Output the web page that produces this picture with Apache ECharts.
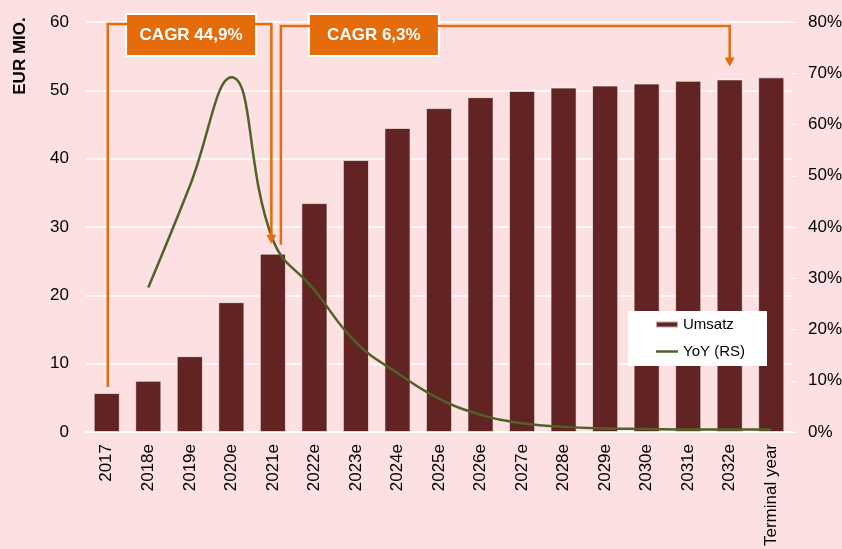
<!DOCTYPE html>
<html>
<head>
<meta charset="utf-8">
<title>Umsatz</title>
<script src="https://cdn.jsdelivr.net/npm/echarts@6.0.0/dist/echarts.min.js"></script>
<style>
  html, body { margin: 0; padding: 0; background: #FDE0E1; }
  #main { width: 842px; height: 549px; }
</style>
</head>
<body>
<div id="main"></div>
<script>
const years = ['2017', '2018e', '2019e', '2020e', '2021e', '2022e', '2023e', '2024e', '2025e',
  '2026e', '2027e', '2028e', '2029e', '2030e', '2031e', '2032e', 'Terminal year'];
const umsatz = [5.7, 7.5, 11.1, 19.0, 26.1, 33.5, 39.8, 44.5, 47.4, 49.0, 49.9, 50.4, 50.7, 51.0, 51.4, 51.6, 51.9];
const yoy = [null, 28.2, 48.0, 69.2, 37.5, 27.7, 17.5, 11.5, 6.5, 3.4, 1.7, 1.0, 0.7, 0.6, 0.5, 0.5, 0.5];
const leftTicks = [0, 10, 20, 30, 40, 50, 60];
const rightTicks = [0, 10, 20, 30, 40, 50, 60, 70, 80];
const cagrLabels = ['CAGR 44,9%', 'CAGR 6,3%'];

const orange = '#E46C0A';
const font = "'Liberation Sans', Arial, sans-serif";
const chart = echarts.init(document.getElementById('main'));

chart.setOption({
  backgroundColor: '#FDE0E1',
  textStyle: { fontFamily: font },
  animation: false,
  grid: { left: 86, right: 50, top: 22, bottom: 117, containLabel: false, outerBoundsMode: 'none' },
  legend: {
    orient: 'vertical', left: 628, top: 311,
    backgroundColor: '#fff',
    padding: [6, 22, 7, 27], itemGap: 12,
    itemWidth: 22, itemHeight: 6, symbolKeepAspect: true,
    textStyle: { fontSize: 15, color: '#000', fontFamily: font },
    data: [
      { name: 'Umsatz', icon: 'rect' },
      { name: 'YoY (RS)', icon: 'path://M0,0 L22,0 L22,2.5 L0,2.5 Z' }
    ]
  },
  xAxis: {
    type: 'category', data: years,
    axisLine: { lineStyle: { color: '#fff', width: 2 } },
    axisTick: { show: false },
    axisLabel: { rotate: 90, fontSize: 17, color: '#000', margin: 12, interval: 0 }
  },
  yAxis: [{
    type: 'value', min: leftTicks[0], max: leftTicks[leftTicks.length - 1], interval: 10,
    axisLine: { show: false }, axisTick: { show: false },
    splitLine: { lineStyle: { color: '#fff', width: 1.5 } },
    axisLabel: { fontSize: 17, color: '#000', margin: 17 }
  }, {
    type: 'value', min: rightTicks[0], max: rightTicks[rightTicks.length - 1], interval: 10,
    position: 'right',
    axisLine: { show: false },
    axisTick: { show: true, length: 4, lineStyle: { color: '#fff' } },
    splitLine: { show: false },
    axisLabel: { fontSize: 17, color: '#000', margin: 16, formatter: '{value}%' }
  }],
  series: [{
    name: 'Umsatz', type: 'bar', data: umsatz, barWidth: '63%',
    itemStyle: { color: '#622423', borderColor: 'rgba(255,255,255,0.6)', borderWidth: 1 }
  }, {
    name: 'YoY (RS)', type: 'line', yAxisIndex: 1, data: yoy, smooth: 0.45,
    symbol: 'none', connectNulls: false,
    lineStyle: { color: '#4F6228', width: 2.5 }, itemStyle: { color: '#4F6228' }
  }]
});

// annotation arrows + CAGR boxes, positioned from the axes
function px(i, v) { return chart.convertToPixel({ xAxisIndex: 0, yAxisIndex: 0 }, [years[i], v]); }
const p0 = px(0, umsatz[0]);
const p4 = px(4, umsatz[4]);
const p15 = px(15, umsatz[15]);
const yTop1 = px(0, 59.7)[1];
const yTop2 = px(0, 59.4)[1];
const a1x = p4[0] - 1.5, a2x = p4[0] + 8;

function arrowHead(x, y) {
  return { type: 'polygon', z: 10, shape: { points: [[x - 5, y - 9], [x + 5, y - 9], [x, y]] }, style: { fill: orange } };
}
function box(cx, text) {
  return {
    type: 'group', z: 20, left: cx - 65, top: 13,
    children: [
      { type: 'rect', shape: { x: 0, y: 0, width: 130, height: 42 }, style: { fill: orange, stroke: '#fff', lineWidth: 2 } },
      { type: 'text', x: 65, y: 21, style: { text: text, fill: '#fff', font: 'bold 17px ' + font, align: 'center', verticalAlign: 'middle' } }
    ]
  };
}

chart.setOption({
  graphic: [
    { type: 'polyline', z: 10, shape: { points: [[p0[0] + 1, p0[1] - 6], [p0[0] + 1, yTop1], [a1x, yTop1], [a1x, p4[1] - 18]] },
      style: { stroke: orange, lineWidth: 2.5, fill: null } },
    arrowHead(a1x, p4[1] - 10),
    { type: 'polyline', z: 10, shape: { points: [[a2x, p4[1] - 9], [a2x, yTop2], [p15[0], yTop2], [p15[0], p15[1] - 21]] },
      style: { stroke: orange, lineWidth: 2.5, fill: null } },
    arrowHead(p15[0], p15[1] - 13),
    box((p0[0] + a1x) / 2 + 1, cagrLabels[0]),
    box(a2x + 92, cagrLabels[1]),
    { type: 'text', z: 20, x: 20, y: 56, rotation: Math.PI / 2,
      style: { text: 'EUR MIO.', fill: '#000', font: 'bold 17px ' + font, align: 'center', verticalAlign: 'middle' } }
  ]
});
</script>
</body>
</html>
